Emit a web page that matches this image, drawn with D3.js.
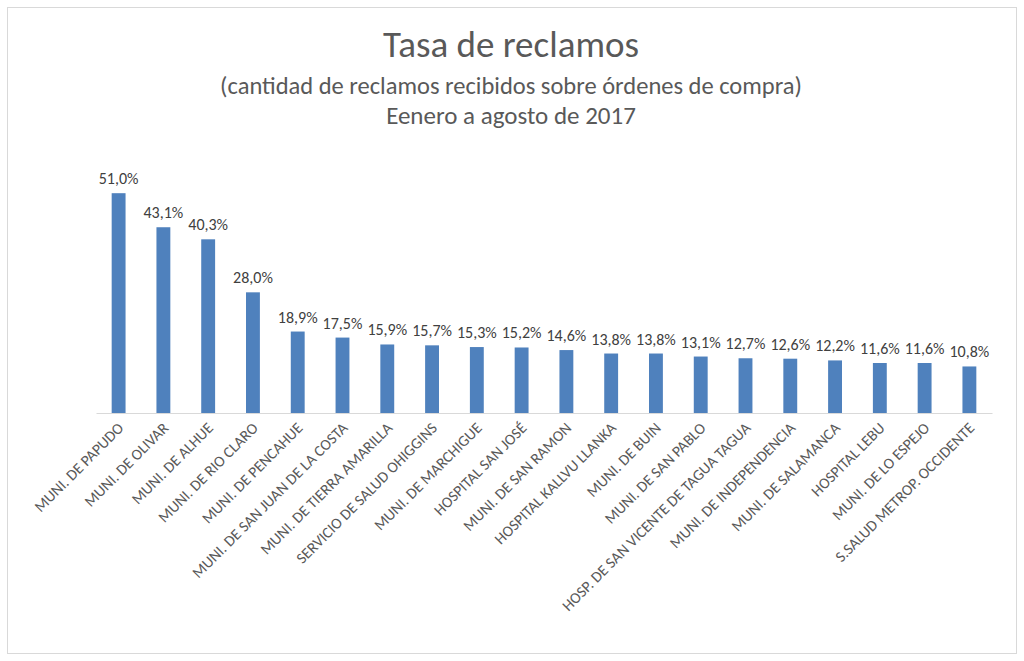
<!DOCTYPE html>
<html>
<head>
<meta charset="utf-8">
<script src="https://cdn.jsdelivr.net/npm/d3@7"></script>
<style>
  body { margin: 0; background: #fff; }
  text { font-family: Calibri, Carlito, "Open Sans", sans-serif; }
</style>
</head>
<body>
<div id="chart"></div>
<script>
const categories = [
  'MUNI. DE PAPUDO', 'MUNI. DE OLIVAR', 'MUNI. DE ALHUE', 'MUNI. DE RIO CLARO',
  'MUNI. DE PENCAHUE', 'MUNI. DE SAN JUAN DE LA COSTA', 'MUNI. DE TIERRA AMARILLA',
  'SERVICIO DE SALUD OHIGGINS', 'MUNI. DE MARCHIGUE', 'HOSPITAL SAN JOSÉ',
  'MUNI. DE SAN RAMON', 'HOSPITAL KALLVU LLANKA', 'MUNI. DE BUIN', 'MUNI. DE SAN PABLO',
  'HOSP. DE SAN VICENTE DE TAGUA TAGUA', 'MUNI. DE INDEPENDENCIA', 'MUNI. DE SALAMANCA',
  'HOSPITAL LEBU', 'MUNI. DE LO ESPEJO', 'S.SALUD METROP. OCCIDENTE'
];
const values = [51.0, 43.1, 40.3, 28.0, 18.9, 17.5, 15.9, 15.7, 15.3, 15.2,
  14.6, 13.8, 13.8, 13.1, 12.7, 12.6, 12.2, 11.6, 11.6, 10.8];
const titleLines = [
  'Tasa de reclamos',
  '(cantidad de reclamos recibidos sobre órdenes de compra)',
  'Eenero a agosto de 2017'
];

const WIDTH = 1024;
const HEIGHT = 661;
const BASELINE = 413;

const svg = d3.select('#chart').append('svg').attr('width', WIDTH).attr('height', HEIGHT);

svg.append('rect')
  .attr('x', 7.5).attr('y', 7.5).attr('width', 1009).attr('height', 646)
  .attr('fill', '#fff').attr('stroke', '#d9d9d9');

svg.append('text').attr('x', 511).attr('y', 57).attr('text-anchor', 'middle')
  .attr('font-size', 37).attr('fill', '#595959').text(titleLines[0]);
svg.append('text').attr('x', 511).attr('y', 94).attr('text-anchor', 'middle')
  .attr('font-size', 24.5).attr('fill', '#595959').text(titleLines[1]);
svg.append('text').attr('x', 511).attr('y', 124).attr('text-anchor', 'middle')
  .attr('font-size', 25).attr('fill', '#595959').text(titleLines[2]);

const xScale = d3.scaleBand().domain(categories).range([96, 992]).paddingInner(0.69).paddingOuter(0.35);
const yScale = d3.scaleLinear().domain([0, 60]).range([BASELINE, BASELINE - 258.6]);

const data = categories.map((c, i) => ({ c, v: values[i] }));

svg.selectAll('rect.bar').data(data).join('rect')
  .attr('class', 'bar')
  .attr('x', d => xScale(d.c))
  .attr('width', xScale.bandwidth())
  .attr('y', d => yScale(d.v))
  .attr('height', d => yScale(0) - yScale(d.v))
  .attr('fill', '#4f81bd');

svg.selectAll('text.val').data(data).join('text')
  .attr('class', 'val')
  .attr('x', d => xScale(d.c) + xScale.bandwidth() / 2)
  .attr('y', d => yScale(d.v) - 9)
  .attr('text-anchor', 'middle')
  .attr('font-size', 16).attr('fill', '#404040')
  .text(d => d.v.toFixed(1).replace('.', ',') + '%');

const axis = svg.append('g').attr('transform', `translate(0, ${BASELINE})`)
  .call(d3.axisBottom(xScale).tickSize(0).tickSizeOuter(0));
axis.select('.domain').attr('stroke', '#d9d9d9');
axis.selectAll('text')
  .attr('font-size', 15.5).attr('fill', '#595959')
  .attr('text-anchor', 'end')
  .attr('dy', null).attr('y', 0)
  .attr('transform', 'translate(6, 16) rotate(-45)');
</script>
</body>
</html>
